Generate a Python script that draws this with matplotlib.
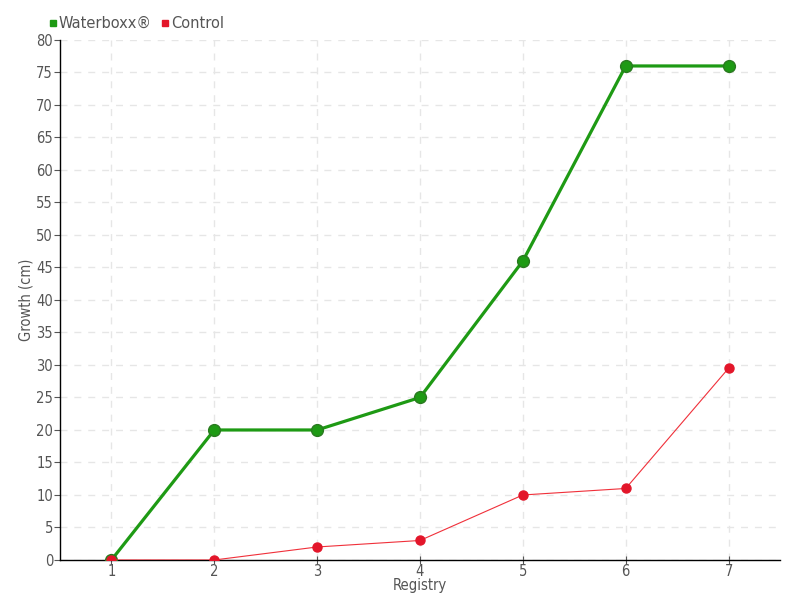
import matplotlib
matplotlib.use("Agg")
import matplotlib.pyplot as plt
from matplotlib.lines import Line2D

registry = [1, 2, 3, 4, 5, 6, 7]
waterboxx = [0, 20, 20, 25, 46, 76, 76]
control = [0, 0, 2, 3, 10, 11, 29.5]
yticks = list(range(0, 81, 5))

plt.rcParams['font.family'] = ['DejaVu Sans']
txt = '#555555'

fig = plt.figure(figsize=(8, 6), dpi=100)
ax = fig.add_axes([0.075, 0.0667, 0.9, 0.8667])

ax.plot(registry, waterboxx, color='#1e9a14', lw=2.3, marker='o', ms=8.5,
        markerfacecolor='#1e9a14', markeredgecolor='#2a7a20', markeredgewidth=1, zorder=3)
ax.plot(registry, control, color='#f0303a', lw=0.8, marker='o', ms=6.5,
        markerfacecolor='#e3162a', markeredgecolor='#e3162a', zorder=4)

ax.set_xlim(0.5, 7.5)
ax.set_ylim(0, 80)
ax.set_xticks(registry)
ax.set_yticks(yticks)
ax.grid(True, color='#e6e6e6', ls=(0, (5, 5)), lw=1)
ax.set_axisbelow(True)
for s in ['top', 'right']:
    ax.spines[s].set_visible(False)
for s in ['left', 'bottom']:
    ax.spines[s].set_color('black')
    ax.spines[s].set_linewidth(1)
ax.tick_params(axis='y', direction='out', length=4, colors=txt, labelsize=10.5, pad=1)
ax.tick_params(axis='x', direction='inout', length=6, colors=txt, labelsize=10.5, pad=0)
for t in ax.get_xticklabels() + ax.get_yticklabels():
    t.set_fontstretch('condensed')
ax.set_xlabel('Registry', color=txt, fontsize=10.5, labelpad=-1, fontstretch='condensed')
ax.set_ylabel('Growth (cm)', color=txt, fontsize=10.5, labelpad=2, fontstretch='condensed')

handles = [Line2D([], [], ls='none', marker='s', ms=5, color='#1e9a14'),
           Line2D([], [], ls='none', marker='s', ms=5, color='#e3162a')]
leg = fig.legend(handles, ['Waterboxx®', 'Control'], loc='upper left',
                 bbox_to_anchor=(0.045, 0.995), ncol=2, frameon=False,
                 handlelength=0.5, handletextpad=0.15, columnspacing=0.7, fontsize=10.5)
for t in leg.get_texts():
    t.set_color(txt)

fig.savefig('out.png', dpi=100)
